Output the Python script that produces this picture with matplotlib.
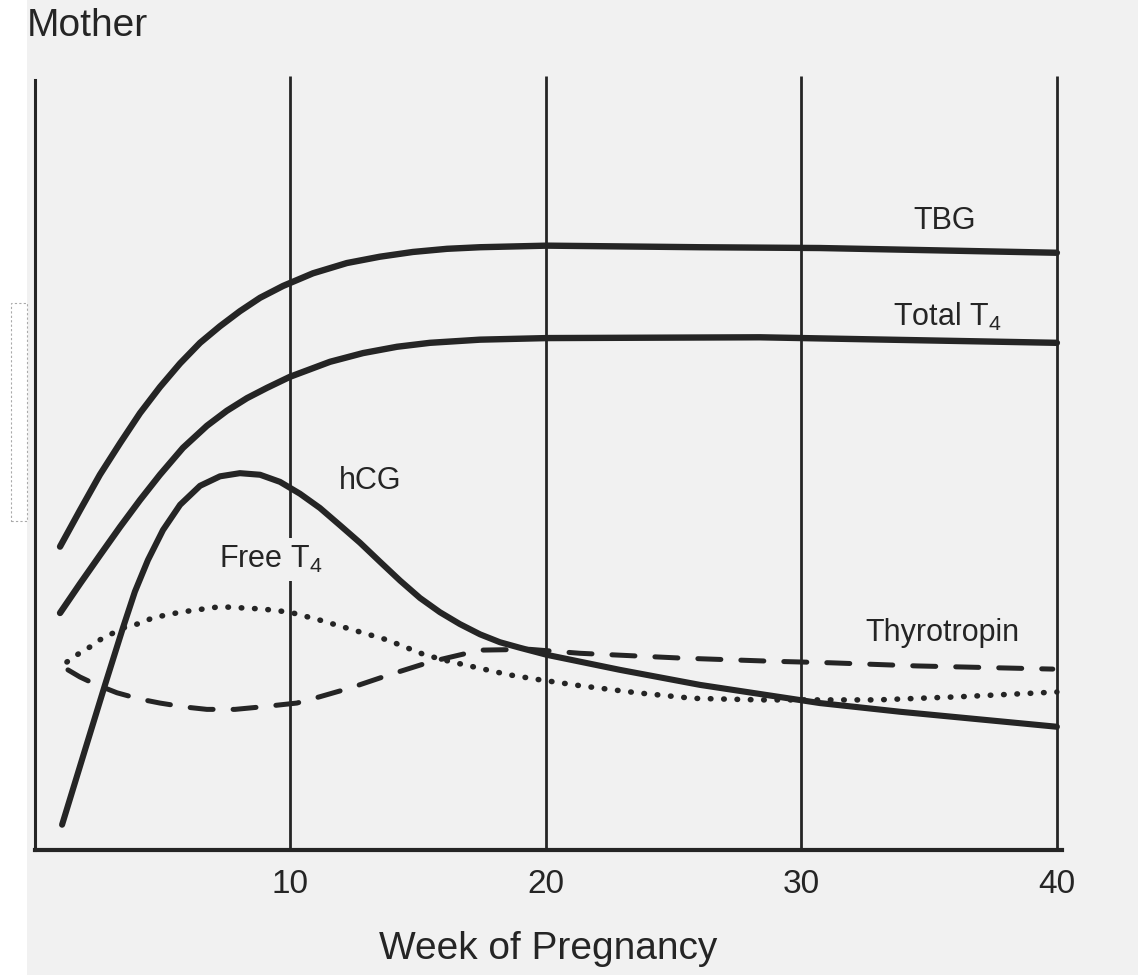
import matplotlib.pyplot as plt
from matplotlib.patches import Rectangle

plt.rcParams['font.family'] = ['Liberation Sans', 'DejaVu Sans']
plt.rcParams['mathtext.fontset'] = 'custom'
plt.rcParams['mathtext.rm'] = 'Liberation Sans'
plt.rcParams['mathtext.it'] = 'Liberation Sans'

# curves (x = week, y = arbitrary level 0-100)
tbg_weeks = [0.98, 1.76, 2.54, 3.33, 4.11, 4.89, 5.68, 6.46, 7.24, 8.02, 8.81, 9.71,
             10.88, 12.21, 13.5, 14.79, 16.13, 17.42, 20.04, 26.03, 30.72, 40.0]
tbg_vals = [38.4, 43.0, 47.5, 51.5, 55.3, 58.6, 61.6, 64.2, 66.3, 68.2, 69.9, 71.4,
            73.0, 74.3, 75.1, 75.7, 76.1, 76.3, 76.5, 76.3, 76.2, 75.6]

t4_weeks = [0.98, 1.76, 2.54, 3.33, 4.11, 4.89, 5.79, 6.73, 7.51, 8.3, 9.08, 9.98,
            11.55, 12.84, 14.17, 15.46, 17.42, 20.04, 28.38, 40.0]
t4_vals = [30.0, 33.7, 37.3, 40.9, 44.3, 47.5, 50.9, 53.7, 55.6, 57.2, 58.5, 59.9,
           61.8, 62.9, 63.7, 64.2, 64.6, 64.8, 64.9, 64.2]

hcg_weeks = [1.06, 1.96, 2.74, 3.44, 3.91, 4.42, 5.01, 5.68, 6.46, 7.24, 8.02, 8.81, 9.59,
             10.37, 11.15, 11.94, 12.72, 13.5, 14.29, 15.07, 15.85, 16.63, 17.42, 18.2,
             18.98, 20.04, 22.9, 26.03, 30.72, 33.86, 40.0]
hcg_vals = [3.2, 12.7, 20.9, 28.1, 32.7, 36.7, 40.5, 43.7, 46.1, 47.3, 47.7, 47.5, 46.6,
            45.1, 43.3, 41.1, 38.9, 36.5, 34.1, 31.9, 30.1, 28.6, 27.3, 26.3,
            25.6, 24.7, 22.8, 20.9, 18.6, 17.5, 15.6]

ft4_weeks = [1.25, 1.64, 2.15, 2.54, 3.44, 4.11, 4.62, 5.68, 7.24, 8.92, 9.98, 11.15, 12.72, 13.78,
             15.26, 16.32, 17.42, 18.51, 19.65, 21.33, 23.56, 25.75, 28.38, 32.96, 36.2, 40.0]
ft4_vals = [23.8, 24.7, 25.7, 26.6, 28.1, 28.7, 29.4, 30.1, 30.8, 30.5, 30.1, 29.1, 27.6, 26.6,
            24.7, 23.8, 23.0, 22.2, 21.6, 20.8, 19.9, 19.2, 19.0, 19.0, 19.4, 20.0]

tsh_weeks = [1.29, 1.76, 2.35, 3.21, 4.11, 4.89, 5.87, 6.73, 7.83, 8.81, 10.25, 11.15, 12.33,
             13.89, 15.46, 17.42, 19.37, 21.33, 23.29, 25.24, 28.77, 31.12, 34.52, 39.84]
tsh_vals = [22.8, 21.9, 21.0, 19.9, 19.1, 18.6, 18.1, 17.8, 17.8, 18.1, 18.6, 19.4, 20.5,
            22.2, 23.8, 25.3, 25.4, 24.9, 24.6, 24.3, 23.9, 23.7, 23.3, 22.9]

grid_weeks = [10, 20, 30, 40]

ink = '#252525'
paper = '#f1f1f1'

fig = plt.figure(figsize=(11.38, 9.75), dpi=100, facecolor=paper)
ax = fig.add_axes([35 / 1138, 125 / 975, 1027 / 1138, 790 / 975])
ax.set_facecolor(paper)

# scan margin on the left
fig.patches.append(Rectangle((0, 0), 27 / 1138, 1, transform=fig.transFigure,
                             facecolor='white', edgecolor='none', zorder=0))
fig.patches.append(Rectangle((11 / 1138, 1 - 521 / 975), 16 / 1138, 218 / 975,
                             transform=fig.transFigure, facecolor='white',
                             edgecolor='#aaaaaa', linestyle=(0, (2, 2)), lw=0.8))

ax.vlines(grid_weeks, 0, 98, color=ink, lw=2.0, zorder=1)

ax.plot(tbg_weeks, tbg_vals, color=ink, lw=4.6, solid_capstyle='round',
        solid_joinstyle='round', zorder=3)
ax.plot(t4_weeks, t4_vals, color=ink, lw=4.6, solid_capstyle='round',
        solid_joinstyle='round', zorder=3)
ax.plot(hcg_weeks, hcg_vals, color=ink, lw=4.4, solid_capstyle='round',
        solid_joinstyle='round', zorder=3)
ax.plot(ft4_weeks, ft4_vals, color=ink, lw=4.0, linestyle=(0, (0.1, 2.3)),
        dash_capstyle='round', zorder=3)
ax.plot(tsh_weeks, tsh_vals, color=ink, lw=3.6, linestyle=(0, (4.6, 4.0)),
        dash_capstyle='round', zorder=3)

lbl = dict(fontsize=22, color=ink, va='baseline', ha='left')
ax.text(34.4, 78.6, 'TBG', **lbl)
ax.text(33.6, 66.3, r'Total T$_4$', **lbl)
ax.text(11.9, 45.7, 'hCG', **lbl)
ax.text(7.2, 35.7, r'Free T$_4$', zorder=4,
        bbox=dict(facecolor=paper, edgecolor='none', pad=4), **lbl)
ax.text(32.5, 26.5, 'Thyrotropin', **lbl)

ax.set_xlim(0, 40.2)
ax.set_ylim(0, 100)
ax.set_yticks([])
ax.set_xticks(grid_weeks)
ax.tick_params(axis='x', length=0, pad=14, labelsize=24, colors=ink)
for side in ['top', 'right']:
    ax.spines[side].set_visible(False)
ax.spines['left'].set_bounds(0, 97.5)
ax.spines['left'].set_linewidth(2.2)
ax.spines['left'].set_color(ink)
ax.spines['bottom'].set_linewidth(3.0)
ax.spines['bottom'].set_color(ink)

ax.set_xlabel('Week of Pregnancy', fontsize=28, color=ink, labelpad=22)
fig.text(27 / 1138, 1 - 8 / 975, 'Mother', fontsize=28, color=ink, va='top', ha='left')

fig.savefig('out.png', dpi=100, facecolor=paper)
